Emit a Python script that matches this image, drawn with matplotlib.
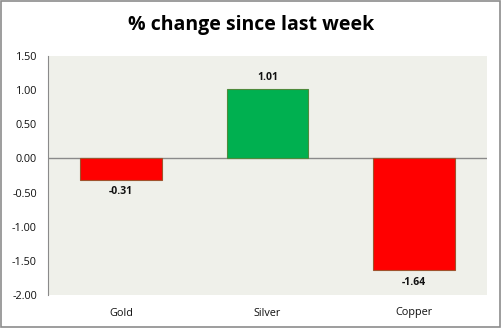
import matplotlib.pyplot as plt
from matplotlib.patches import Rectangle

metals = ['Gold', 'Silver', 'Copper']
pct_change = [-0.31, 1.01, -1.64]
yticks = [1.5, 1.0, 0.5, 0.0, -0.5, -1.0, -1.5, -2.0]

plt.rcParams['font.family'] = ['Open Sans', 'DejaVu Sans']

fig = plt.figure(figsize=(5.02, 3.28), dpi=100)
fig.patch.set_facecolor('white')
fig.add_artist(Rectangle((0.001, 0.002), 0.996, 0.995, transform=fig.transFigure,
                         fill=False, edgecolor='#8c8c8c', linewidth=1.2))

ax = fig.add_axes([48 / 502, 1 - 295 / 328, 439 / 502, 239 / 328])
ax.set_facecolor('#eff0ea')

fills = ['#ff0000' if v < 0 else '#00b050' for v in pct_change]
edges = ['#a0522d' if v < 0 else '#4f8a3c' for v in pct_change]
xs = range(len(metals))
ax.bar(xs, pct_change, width=0.56, color=fills, edgecolor=edges, linewidth=0.8, zorder=3)

for x, v in zip(xs, pct_change):
    off = 0.09 if v > 0 else -0.1
    ax.text(x, v + off, '%.2f' % v, ha='center', va='bottom' if v > 0 else 'top',
            fontsize=7.5, fontweight='bold', color='#111111')

ax.axhline(0, color='#8a8a8a', linewidth=1, zorder=2)
ax.set_xlim(-0.5, 2.5)
ax.set_ylim(-2.0, 1.5)
ax.set_yticks(yticks)
ax.set_yticklabels(['%.2f' % t for t in yticks])
ax.set_xticks(list(xs))
ax.set_xticklabels(metals)
ax.tick_params(axis='both', length=0, labelsize=7.8, colors='#111111')
ax.tick_params(axis='y', pad=8)
ax.tick_params(axis='x', pad=9)
for side in ['top', 'right', 'bottom']:
    ax.spines[side].set_visible(False)
ax.spines['left'].set_color('#8a8a8a')

fig.text(251 / 502, 1 - 25 / 328, '% change since last week', ha='center', va='center',
         fontsize=14, fontweight='bold', color='black')

fig.savefig('out.png', dpi=100)
